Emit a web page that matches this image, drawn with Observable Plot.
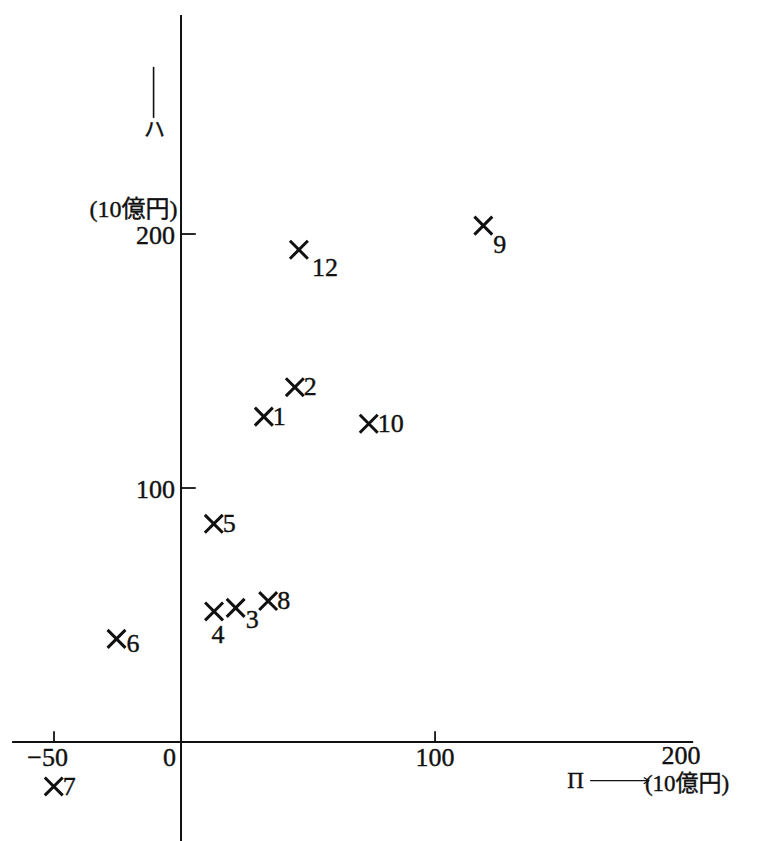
<!DOCTYPE html>
<html>
<head>
<meta charset="utf-8">
<script src="https://cdn.jsdelivr.net/npm/d3@7"></script>
<script src="https://cdn.jsdelivr.net/npm/@observablehq/plot@0.6"></script>
<style>
  html, body { margin: 0; padding: 0; background: #fff; }
  #chart svg { display: block; }
</style>
</head>
<body>
<div id="chart"></div>
<script>
// ---- data ----
const pointIds = ["1", "2", "3", "4", "5", "6", "7", "8", "9", "10", "12"];
const pointX   = [32.6, 44.8, 21.5, 13.0, 12.9, -25.4, -50.1, 34.3, 119.0, 73.9, 46.4];
const pointY   = [128.1, 139.7, 52.8, 51.4, 85.9, 40.6, -17.5, 55.5, 203.3, 125.3, 193.8];

const xTickValues = [-50, 0, 100, 200];
const xTickLabels = ["\u221250", "0", "100", "200"];
const yTickValues = [100, 200];
const yTickLabels = ["100", "200"];
const xTickMarks = [-50, 100];

const unitLabel = "(10億円)";
const xAxisName = "Π";
const yAxisName = "ハ";

// ---- label placement (style, kept apart from data) ----
const labelStyle = {
  "1":  {dx: 9,  dy: 0,  anchor: "start"},
  "2":  {dx: 9,  dy: 0,  anchor: "start"},
  "3":  {dx: 10, dy: 12, anchor: "start"},
  "4":  {dx: 4,  dy: 23, anchor: "middle"},
  "5":  {dx: 9,  dy: 0,  anchor: "start"},
  "6":  {dx: 10, dy: 5,  anchor: "start"},
  "7":  {dx: 9,  dy: 0,  anchor: "start"},
  "8":  {dx: 9,  dy: 0,  anchor: "start"},
  "9":  {dx: 10, dy: 19, anchor: "start"},
  "10": {dx: 9,  dy: 0,  anchor: "start"},
  "12": {dx: 13, dy: 18, anchor: "start"}
};

const points = pointIds.map((id, i) => ({id, x: pointX[i], y: pointY[i], ...labelStyle[id]}));
const xTicks = xTickValues.map((v, i) => ({v, label: xTickLabels[i]}));
const yTicks = yTickValues.map((v, i) => ({v, label: yTickLabels[i]}));

const FONT = "'Liberation Serif', 'DejaVu Serif', 'Noto Sans CJK JP', serif";
const FS = 26;
const INK = "#111";
const txt = {fill: INK, fontFamily: FONT, stroke: INK, strokeWidth: 0.4};

// per-point offsets: Plot dx/dy are constants, so group points by offset
const offsetGroups = d3.groups(points, d => d.dx + "," + d.dy + "," + d.anchor).map(([k, arr]) =>
  Plot.text(arr, {
    x: "x", y: "y", text: "id",
    textAnchor: arr[0].anchor, dx: arr[0].dx, dy: arr[0].dy,
    fontSize: FS, ...txt
  })
);

const chart = Plot.plot({
  width: 761,
  height: 841,
  margin: 0,
  style: {background: "#fff", fontFamily: FONT},
  x: {domain: [-71.06, 228.5], axis: null},
  y: {domain: [-39.17, 291.93], axis: null},
  marks: [
    // axes lines
    Plot.ruleY([0], {x1: -66.3, x2: 201.8, stroke: INK, strokeWidth: 2}),
    Plot.ruleX([0], {y1: -39.2, y2: 286, stroke: INK, strokeWidth: 2}),
    // tick marks
    Plot.ruleX(xTickMarks, {y1: 0, y2: 4, stroke: INK, strokeWidth: 1.8}),
    Plot.ruleY(yTickValues, {x1: 0, x2: 6, stroke: INK, strokeWidth: 1.8}),
    // x tick labels
    Plot.text(xTicks.filter(d => d.v === -50), {x: "v", y: 0, text: "label", textAnchor: "end", dx: 14, dy: 16, fontSize: FS, ...txt}),
    Plot.text(xTicks.filter(d => d.v === 0), {x: "v", y: 0, text: "label", textAnchor: "end", dx: -5, dy: 16, fontSize: FS, ...txt}),
    Plot.text(xTicks.filter(d => d.v === 100), {x: "v", y: 0, text: "label", textAnchor: "middle", dx: 0, dy: 16, fontSize: FS, ...txt}),
    Plot.text(xTicks.filter(d => d.v === 200), {x: "v", y: 0, text: "label", textAnchor: "middle", dx: -8, dy: 14, fontSize: FS, ...txt}),
    // y tick labels
    Plot.text(yTicks, {x: 0, y: "v", text: "label", textAnchor: "end", dx: -6, dy: 2, fontSize: FS, ...txt}),
    // y axis name + unit
    Plot.ruleX([-10.8], {y1: 245.5, y2: 265.6, stroke: INK, strokeWidth: 1.6}),
    Plot.text([yAxisName], {x: -10.4, y: 241.2, text: d => d, fontSize: 21, ...txt}),
    Plot.text([unitLabel], {x: -1.4, y: 209.9, text: d => d, textAnchor: "end", fontSize: 24, ...txt}),
    // x axis name + arrow + unit
    Plot.text([xAxisName], {x: 155.3, y: -15.2, text: d => d, fontSize: 23, ...txt}),
    Plot.arrow([0], {x1: 161.2, x2: 184.2, y1: -15.2, y2: -15.2, stroke: INK, strokeWidth: 1.2, headLength: 7}),
    Plot.text([unitLabel], {x: 182.6, y: -16.2, text: d => d, textAnchor: "start", fontSize: 23, ...txt}),
    // points
    Plot.dot(points, {x: "x", y: "y", symbol: "times", r: 8.2, stroke: INK, strokeWidth: 3}),
    ...offsetGroups
  ]
});

document.getElementById("chart").appendChild(chart);
</script>
</body>
</html>
